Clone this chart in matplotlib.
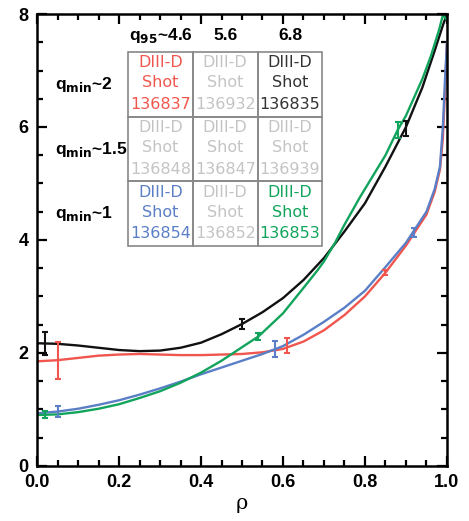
import numpy as np
import matplotlib
matplotlib.use('Agg')
from matplotlib import pyplot as plt
from matplotlib.patches import Rectangle
from matplotlib.ticker import MultipleLocator

plt.rcParams['mathtext.fontset'] = 'custom'
plt.rcParams['mathtext.bf'] = 'Liberation Sans Narrow:bold'
plt.rcParams['mathtext.rm'] = 'Liberation Sans Narrow:bold'

# q profiles
rho_black = [0.0, 0.05, 0.1, 0.15, 0.2, 0.25, 0.3, 0.35, 0.4, 0.45, 0.5, 0.55, 0.6, 0.65,
             0.7, 0.75, 0.8, 0.85, 0.9, 0.94, 0.97, 0.99, 1.0]
q_black = [2.17, 2.16, 2.13, 2.09, 2.05, 2.03, 2.04, 2.09, 2.18, 2.33, 2.51, 2.72, 2.97, 3.29,
           3.68, 4.15, 4.65, 5.3, 6.0, 6.7, 7.35, 7.8, 8.0]

rho_green = [0.0, 0.05, 0.1, 0.15, 0.2, 0.25, 0.3, 0.35, 0.4, 0.45, 0.5, 0.54, 0.6, 0.65,
             0.685, 0.7, 0.727, 0.75, 0.788, 0.85, 0.88, 0.9, 0.94, 0.96, 0.98, 0.99, 1.0]
q_green = [0.9, 0.91, 0.95, 1.01, 1.09, 1.2, 1.32, 1.47, 1.65, 1.86, 2.1, 2.29, 2.7, 3.15,
           3.47, 3.62, 3.95, 4.27, 4.76, 5.5, 5.95, 6.2, 6.85, 7.24, 7.7, 7.98, 7.9]

rho_blue = [0.0, 0.05, 0.1, 0.15, 0.2, 0.25, 0.3, 0.35, 0.4, 0.45, 0.5, 0.55, 0.6, 0.65,
            0.7, 0.75, 0.8, 0.85, 0.9, 0.95, 0.97, 0.983, 0.99, 0.995, 1.0]
q_blue = [0.93, 0.96, 1.01, 1.08, 1.16, 1.26, 1.37, 1.49, 1.62, 1.74, 1.86, 1.98, 2.12, 2.32,
          2.55, 2.8, 3.1, 3.52, 3.95, 4.5, 4.9, 5.3, 6.0, 6.8, 7.5]

rho_red = [0.0, 0.05, 0.1, 0.15, 0.2, 0.25, 0.3, 0.35, 0.4, 0.45, 0.5, 0.55, 0.6, 0.65,
           0.7, 0.75, 0.8, 0.85, 0.9, 0.95, 0.97, 0.983, 0.99, 0.995, 1.0]
q_red = [1.85, 1.87, 1.91, 1.95, 1.97, 1.98, 1.97, 1.96, 1.96, 1.97, 1.98, 2.01, 2.07, 2.2,
         2.4, 2.67, 3.0, 3.42, 3.9, 4.45, 4.85, 5.25, 5.8, 6.6, 7.5]

# measured points with error bars
eb_black = ([0.02, 0.5, 0.9], [2.17, 2.51, 5.97], [0.2, 0.09, 0.13])
eb_green = ([0.02, 0.54, 0.88], [0.91, 2.29, 5.94], [0.06, 0.06, 0.14])
eb_blue = ([0.05, 0.58, 0.92], [0.96, 2.07, 4.13], [0.1, 0.14, 0.08])
eb_red = ([0.05, 0.61, 0.85], [1.87, 2.13, 3.42], [0.33, 0.13, 0.05])

c_red = '#f0564e'
c_blue = '#5a7fc6'
c_green = '#12a45c'
c_black = '#111111'
c_gray = '#c4c4c4'
c_dark = '#333333'

# shot table
q95_labels = ['4.6', '5.6', '6.8']
qmin_labels = ['2', '1.5', '1']
shots = [['136837', '136932', '136835'],
         ['136848', '136847', '136939'],
         ['136854', '136852', '136853']]
shot_colors = [[c_red, c_gray, c_dark],
               [c_gray, c_gray, c_gray],
               [c_blue, c_gray, c_green]]

num_font = ['Liberation Sans Narrow', 'Liberation Sans', 'DejaVu Sans']

fig = plt.figure(figsize=(4.69, 5.21), dpi=100)
ax = fig.add_axes([0.079, 0.106, 0.874, 0.867])

for r, q, c in [(rho_black, q_black, c_black), (rho_red, q_red, c_red),
                (rho_blue, q_blue, c_blue), (rho_green, q_green, c_green)]:
    ax.plot(r, q, color=c, lw=1.7, solid_capstyle='round')

for eb, c in [(eb_black, c_black), (eb_red, c_red), (eb_blue, c_blue), (eb_green, c_green)]:
    ax.errorbar(eb[0], eb[1], yerr=eb[2], fmt='none', ecolor=c, elinewidth=1.5,
                capsize=2.5, capthick=1.5)

ax.set_xlim(0, 1)
ax.set_ylim(0, 8)
ax.xaxis.set_major_locator(MultipleLocator(0.2))
ax.xaxis.set_minor_locator(MultipleLocator(0.05))
ax.yaxis.set_major_locator(MultipleLocator(2))
ax.yaxis.set_minor_locator(MultipleLocator(0.5))
ax.tick_params(which='both', direction='in', top=True, right=True, width=1.6)
ax.tick_params(which='major', length=7, labelsize=13, pad=6)
ax.tick_params(which='minor', length=4)
ax.set_xticklabels(['%.1f' % v for v in ax.get_xticks()])
ax.set_yticklabels(['%d' % v for v in ax.get_yticks()])
for lab in ax.get_xticklabels() + ax.get_yticklabels():
    lab.set_family(num_font)
    lab.set_fontweight('bold')
for s in ax.spines.values():
    s.set_linewidth(1.8)

ax.set_xlabel('ρ', family='DejaVu Serif', fontsize=15, labelpad=2)

# table grid
x0, cw = 0.222, 0.158
y0, ch = 7.33, 1.147
for i in range(3):
    for j in range(3):
        ax.add_patch(Rectangle((x0 + j * cw, y0 - (i + 1) * ch), cw, ch, fill=False,
                               edgecolor='#888888', lw=1.2, zorder=3))
        cx = x0 + (j + 0.5) * cw
        top = y0 - i * ch
        col = shot_colors[i][j]
        ax.text(cx, top - 0.19, 'DIII-D', ha='center', va='center', color=col,
                fontsize=11.5, family='DejaVu Sans')
        ax.text(cx, top - 0.55, 'Shot', ha='center', va='center', color=col,
                fontsize=11.5, family='DejaVu Sans')
        ax.text(cx, top - 0.93, shots[i][j], ha='center', va='center', color=col,
                fontsize=11.5, family='DejaVu Sans')

for j, lab in enumerate(q95_labels):
    cx = x0 + (j + 0.5) * cw
    txt = r'q$_{\mathbf{95}}$~' + lab if j == 0 else lab
    ax.text(cx, 7.62, txt, ha='center', va='center', fontsize=12.5, fontweight='bold',
            family=num_font)

for i, lab in enumerate(qmin_labels):
    cy = y0 - (i + 0.5) * ch
    ax.text(0.045, cy, r'q$_{\mathbf{min}}$~' + lab, ha='left', va='center', fontsize=12.5,
            fontweight='bold', family=num_font)

fig.savefig('out.png', dpi=100)
